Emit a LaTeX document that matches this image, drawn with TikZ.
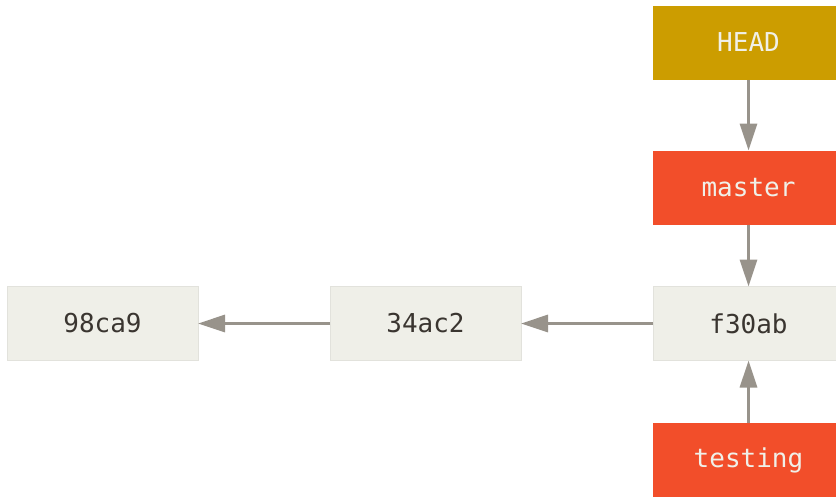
\documentclass[tikz,border=0pt]{standalone}
\usepackage{fontspec}
\setmonofont{DejaVu Sans Mono}
\usetikzlibrary{arrows.meta}
\definecolor{headcol}{RGB}{204,157,0}
\definecolor{branchcol}{RGB}{242,78,42}
\definecolor{commitcol}{RGB}{239,239,232}
\definecolor{commitline}{RGB}{226,226,220}
\definecolor{arrowcol}{RGB}{152,147,139}
\definecolor{darktext}{RGB}{58,53,48}
\definecolor{lighttext}{RGB}{240,240,232}
\begin{document}
\begin{tikzpicture}[x=1pt,y=-1pt,
  box/.style={minimum width=191pt,minimum height=74pt,inner sep=0pt,outer sep=0pt,
    font=\ttfamily\fontsize{26}{30}\selectfont},
  commit/.style={box,fill=commitcol,draw=commitline,line width=0.8pt,text=darktext},
  branch/.style={box,fill=branchcol,text=lighttext},
  headbox/.style={box,fill=headcol,text=lighttext},
  conn/.style={draw=arrowcol,line width=3pt,-{Triangle[length=27pt,width=17pt]}}]
\useasboundingbox (0,0) rectangle (836,499);
\node[commit] (c1) at (102.5,323.5) {98ca9};
\node[commit] (c2) at (425.5,323.5) {34ac2};
\node[commit] (c3) at (748.5,323.5) {f30ab};
\node[headbox] (head) at (748.5,42.5) {HEAD};
\node[branch] (master) at (748.5,187.5) {master};
\node[branch] (testing) at (748.5,460) {testing};
\draw[conn] (head) -- (master);
\draw[conn] (master) -- (c3);
\draw[conn] (testing) -- (c3);
\draw[conn] (c3) -- (c2);
\draw[conn] (c2) -- (c1);
\end{tikzpicture}
\end{document}
